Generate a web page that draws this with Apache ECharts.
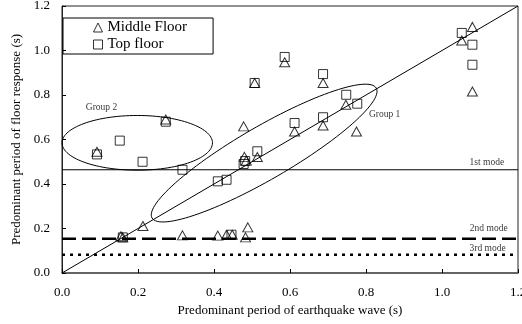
<!DOCTYPE html>
<html>
<head>
<meta charset="utf-8">
<script src="https://cdn.jsdelivr.net/npm/echarts@6/dist/echarts.min.js"></script>
<style>
  html, body { margin: 0; padding: 0; background: #fff; }
  #chart { width: 522px; height: 324px; }
</style>
</head>
<body>
<div id="chart"></div>
<script>
// Predominant period pairs: [earthquake wave (s), floor response (s)]
const middleFloor = [
  [0.092, 0.545], [0.273, 0.690], [0.155, 0.165], [0.160, 0.160],
  [0.213, 0.211], [0.317, 0.169], [0.410, 0.168], [0.433, 0.172],
  [0.448, 0.172], [0.489, 0.205], [0.483, 0.160], [0.478, 0.659],
  [0.480, 0.522], [0.485, 0.505], [0.514, 0.521], [0.612, 0.636],
  [0.687, 0.663], [0.775, 0.636], [0.747, 0.756], [0.507, 0.854],
  [0.586, 0.947], [0.687, 0.854], [1.052, 1.045], [1.080, 1.106],
  [1.080, 0.816]
];
const topFloor = [
  [0.092, 0.533], [0.152, 0.595], [0.212, 0.500], [0.273, 0.680],
  [0.317, 0.464], [0.160, 0.160], [0.446, 0.172], [0.410, 0.412],
  [0.433, 0.419], [0.478, 0.490], [0.482, 0.503], [0.514, 0.547],
  [0.612, 0.674], [0.687, 0.700], [0.748, 0.801], [0.777, 0.761],
  [0.507, 0.854], [0.586, 0.971], [0.687, 0.894], [1.052, 1.079],
  [1.080, 1.026], [1.080, 0.936]
];

// Natural periods of the building (s)
const modePeriods = { first: 0.464, second: 0.154, third: 0.082 };

// Axis settings
const axisMin = 0, axisMax = 1.2, axisStep = 0.2;

// Group outlines: centre and two half-axis vectors, in data units
const group1 = { c: [0.532, 0.539], a: [0.295, 0.292], b: [-0.035, 0.103] };
const group2 = { c: [0.198, 0.585], a: [0.198, 0], b: [0, 0.123] };

// Text annotations: [x, y, text]
const notes = [
  [0.104, 0.743, 'Group 2'],
  [0.849, 0.711, 'Group 1'],
  [1.118, 0.496, '1st mode'],
  [1.123, 0.199, '2nd mode'],
  [1.120, 0.109, '3rd mode']
];

const serif = 'Liberation Serif, Times New Roman, serif';

function ellipseSeries(g) {
  return {
    type: 'custom',
    silent: true,
    coordinateSystem: 'cartesian2d',
    data: [[g.c[0], g.c[1], g.a[0], g.a[1], g.b[0], g.b[1]]],
    renderItem: function (params, api) {
      const cx = api.value(0), cy = api.value(1);
      const ax = api.value(2), ay = api.value(3);
      const bx = api.value(4), by = api.value(5);
      const pts = [];
      for (let i = 0; i <= 120; i++) {
        const t = i / 120 * Math.PI * 2;
        pts.push(api.coord([cx + Math.cos(t) * ax + Math.sin(t) * bx,
                            cy + Math.cos(t) * ay + Math.sin(t) * by]));
      }
      return {
        type: 'polyline',
        shape: { points: pts },
        style: { stroke: '#000', lineWidth: 1, fill: null }
      };
    },
    z: 3
  };
}

function modeLine(v, type, width) {
  return {
    type: 'line',
    data: [[axisMin, v], [axisMax, v]],
    symbol: 'none',
    silent: true,
    lineStyle: { color: '#000', width: width, type: type },
    z: 2
  };
}

const chart = echarts.init(document.getElementById('chart'), null, { renderer: 'canvas' });

chart.setOption({
  animation: false,
  backgroundColor: '#fff',
  textStyle: { fontFamily: serif },
  grid: {
    left: 62, right: 4, top: 6, bottom: 51,
    outerBoundsMode: 'none',
    containLabel: false,
    show: true, borderColor: '#222', borderWidth: 1, backgroundColor: 'transparent'
  },
  legend: {
    orient: 'vertical',
    left: 63, top: 18,
    borderColor: '#000', borderWidth: 1, borderRadius: 0,
    padding: [2, 26, 2, 30],
    itemGap: 2,
    itemWidth: 9, itemHeight: 9,
    textStyle: { fontFamily: serif, fontSize: 15, color: '#000', padding: [0, 0, 0, 0] },
    data: [
      { name: 'Middle Floor', icon: 'triangle',
        itemStyle: { color: 'rgba(0,0,0,0)', borderColor: '#000', borderWidth: 1 } },
      { name: 'Top floor', icon: 'rect',
        itemStyle: { color: 'rgba(0,0,0,0)', borderColor: '#000', borderWidth: 1 } }
    ]
  },
  xAxis: {
    type: 'value', min: axisMin, max: axisMax, interval: axisStep,
    name: 'Predominant period of earthquake wave (s)',
    nameLocation: 'middle', nameGap: 30,
    nameTextStyle: { fontFamily: serif, fontSize: 13, color: '#000' },
    axisLine: { lineStyle: { color: '#555', width: 1.5 } },
    axisTick: { inside: true, length: 4, lineStyle: { color: '#000' } },
    axisLabel: { fontFamily: serif, fontSize: 13, color: '#000', margin: 13,
      alignMinLabel: 'center', alignMaxLabel: 'center', showMaxLabel: true,
      hideOverlap: false,
      formatter: v => v.toFixed(1) },
    splitLine: { show: false }
  },
  yAxis: {
    type: 'value', min: axisMin, max: axisMax, interval: axisStep,
    name: 'Predominant period of floor response (s)',
    nameLocation: 'middle', nameGap: 32,
    nameTextStyle: { fontFamily: serif, fontSize: 13, color: '#000' },
    axisLine: { lineStyle: { color: '#222', width: 1 } },
    axisTick: { inside: true, length: 4, lineStyle: { color: '#000' } },
    axisLabel: { fontFamily: serif, fontSize: 13, color: '#000', margin: 12,
      formatter: v => v.toFixed(1) },
    splitLine: { show: false }
  },
  series: [
    {
      type: 'line', data: [[axisMin, axisMin], [axisMax, axisMax]],
      symbol: 'none', silent: true,
      lineStyle: { color: '#000', width: 1 }, z: 2
    },
    modeLine(modePeriods.first, 'solid', 1),
    modeLine(modePeriods.second, [14, 6], 2.5),
    modeLine(modePeriods.third, [3, 5], 2.5),
    ellipseSeries(group1),
    ellipseSeries(group2),
    {
      name: 'Middle Floor', type: 'scatter', data: middleFloor,
      symbol: 'triangle', symbolSize: [10, 9],
      itemStyle: { color: 'rgba(0,0,0,0)', borderColor: '#000', borderWidth: 1 },
      z: 5
    },
    {
      name: 'Top floor', type: 'scatter', data: topFloor,
      symbol: 'rect', symbolSize: 9,
      itemStyle: { color: 'rgba(0,0,0,0)', borderColor: '#000', borderWidth: 1 },
      z: 5
    },
    {
      type: 'scatter', silent: true, symbolSize: 0,
      data: notes.map(n => ({ value: [n[0], n[1]], label: { formatter: n[2] } })),
      label: { show: true, position: 'inside', fontFamily: serif, fontSize: 9.5, color: '#000' },
      z: 6
    }
  ]
});
</script>
</body>
</html>
